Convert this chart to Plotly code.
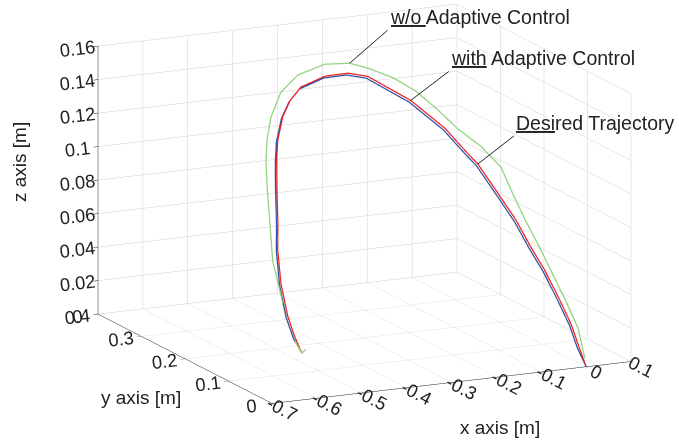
import plotly.graph_objects as go

# Desired trajectory (red)
des_x = [-0.468,-0.470,-0.470,-0.461,-0.447,-0.431,-0.411,-0.395,-0.381,-0.359,-0.337,-0.311,-0.264,-0.224,-0.193,-0.135,-0.094,-0.071,-0.060,-0.042,-0.030,-0.022,-0.012,-0.005,0.000,0.000,0.000]
des_y = [0.171,0.185,0.201,0.226,0.248,0.264,0.287,0.304,0.316,0.327,0.333,0.335,0.328,0.317,0.303,0.264,0.228,0.199,0.187,0.153,0.130,0.107,0.083,0.059,0.035,0.017,0.000]
des_z = [0.000,0.008,0.018,0.034,0.051,0.064,0.082,0.095,0.105,0.117,0.125,0.132,0.138,0.140,0.139,0.128,0.115,0.103,0.098,0.082,0.071,0.059,0.047,0.034,0.021,0.010,0.000]

# With adaptive control (blue)
ada_x = [-0.468,-0.473,-0.473,-0.464,-0.450,-0.434,-0.414,-0.398,-0.384,-0.362,-0.340,-0.314,-0.267,-0.227,-0.196,-0.138,-0.097,-0.074,-0.063,-0.045,-0.033,-0.025,-0.015,-0.008,-0.003,-0.003,0.000]
ada_y = [0.171,0.185,0.201,0.226,0.248,0.264,0.287,0.304,0.316,0.327,0.333,0.335,0.328,0.317,0.303,0.264,0.228,0.199,0.187,0.153,0.130,0.107,0.083,0.059,0.035,0.017,0.000]
ada_z = [0.000,0.007,0.017,0.033,0.050,0.063,0.081,0.094,0.104,0.116,0.124,0.131,0.137,0.139,0.138,0.127,0.114,0.102,0.097,0.081,0.070,0.058,0.046,0.033,0.020,0.009,0.000]

# Without adaptive control (green)
noa_x = [-0.459,-0.469,-0.472,-0.473,-0.466,-0.461,-0.444,-0.427,-0.413,-0.399,-0.379,-0.348,-0.309,-0.258,-0.215,-0.187,-0.152,-0.122,-0.095,-0.073,-0.045,-0.024,-0.019,-0.014,-0.007,-0.002,0.005,0.010,0.003]
noa_y = [0.171,0.170,0.183,0.202,0.227,0.245,0.269,0.293,0.310,0.322,0.334,0.343,0.344,0.335,0.322,0.308,0.288,0.267,0.243,0.220,0.196,0.171,0.149,0.125,0.102,0.079,0.054,0.029,0.006]
noa_z = [0.002,0.000,0.006,0.017,0.034,0.045,0.064,0.082,0.095,0.105,0.116,0.129,0.138,0.144,0.145,0.143,0.139,0.133,0.124,0.115,0.107,0.097,0.084,0.071,0.059,0.047,0.033,0.019,0.004]

x_ticks = [-0.7, -0.6, -0.5, -0.4, -0.3, -0.2, -0.1, 0, 0.1]
x_labels = ["-0.7", "-0.6", "-0.5", "-0.4", "-0.3", "-0.2", "-0.1", "0", "0.1"]
y_ticks = [0, 0.1, 0.2, 0.3, 0.4]
y_labels = ["0", "0.1", "0.2", "0.3", "0.4"]
z_ticks = [0, 0.02, 0.04, 0.06, 0.08, 0.1, 0.12, 0.14, 0.16]
z_labels = ["0", "0.02", "0.04", "0.06", "0.08", "0.1", "0.12", "0.14", "0.16"]

FONT = "Liberation Sans, Arial, sans-serif"
TXT = "#222222"

fig = go.Figure()
fig.add_trace(go.Scatter3d(x=noa_x, y=noa_y, z=noa_z, mode="lines",
                           line=dict(color="#90d27e", width=2.5), name="w/o Adaptive Control"))
fig.add_trace(go.Scatter3d(x=des_x, y=des_y, z=des_z, mode="lines",
                           line=dict(color="#ee2222", width=2.5), name="Desired Trajectory"))
fig.add_trace(go.Scatter3d(x=ada_x, y=ada_y, z=ada_z, mode="lines",
                           line=dict(color="#3352a6", width=2.5), name="with Adaptive Control"))

def axis(rng, tv, tt):
    return dict(title=dict(text=""),
                range=rng, tickvals=tv, ticktext=tt, autorange=False,
                tickfont=dict(family=FONT, size=14.8, color=TXT),
                showgrid=True, gridcolor="#d0d0d0", gridwidth=1,
                showbackground=False, zeroline=False, showspikes=False,
                showline=True, linecolor=TXT, linewidth=1,
                ticks="outside", ticklen=5, tickcolor=TXT)

# view direction (azimuth / elevation of the reference figure)
dirv = (-0.4174, -0.8752, 0.245)
cen = (-0.1104, 0.0321, -0.0734)
r = 2.0
eye = dict(x=cen[0] + dirv[0] * r, y=cen[1] + dirv[1] * r, z=cen[2] + dirv[2] * r)

ann_font = dict(family=FONT, size=19.5, color=TXT)
title_font = dict(family=FONT, size=19, color=TXT)

def label(text, x, y, angle=0):
    return dict(text=text, x=x, y=y, xref="paper", yref="paper", showarrow=False,
                textangle=angle, font=title_font, xanchor="center", yanchor="middle")

fig.update_layout(
    width=679, height=441,
    margin=dict(l=0, r=0, t=0, b=0),
    paper_bgcolor="white",
    showlegend=False,
    scene=dict(
        domain=dict(x=[0, 1], y=[0, 1]),
        xaxis=axis([-0.7, 0.1], x_ticks, x_labels),
        yaxis=axis([0, 0.4], y_ticks, y_labels),
        zaxis=axis([0, 0.16], z_ticks, z_labels),
        aspectmode="manual",
        aspectratio=dict(x=1.804, y=1.833, z=1.2535),
        camera=dict(eye=eye, up=dict(x=0, y=0, z=1),
                    center=dict(x=cen[0], y=cen[1], z=cen[2]),
                    projection=dict(type="orthographic")),
        annotations=[
            dict(x=noa_x[14], y=noa_y[14], z=noa_z[14], text='<span style="text-decoration:underline">w/o </span>Adaptive Control',
                 showarrow=True, arrowhead=0, arrowwidth=1, arrowcolor=TXT, ax=38, ay=-33,
                 xanchor="left", yanchor="bottom", font=ann_font),
            dict(x=des_x[15], y=des_y[15], z=des_z[15], text='<span style="text-decoration:underline">with</span> Adaptive Control',
                 showarrow=True, arrowhead=0, arrowwidth=1, arrowcolor=TXT, ax=38, ay=-29,
                 xanchor="left", yanchor="bottom", font=ann_font),
            dict(x=des_x[18], y=des_y[18], z=des_z[18], text='<span style="text-decoration:underline">Desi</span>red Trajectory',
                 showarrow=True, arrowhead=0, arrowwidth=1, arrowcolor=TXT, ax=36, ay=-28,
                 xanchor="left", yanchor="bottom", font=ann_font),
        ],
    ),
    annotations=[
        label("x axis [m]", 500 / 679, 1 - 427 / 441),
        label("y axis [m]", 141 / 679, 1 - 397 / 441),
        label("z axis [m]", 20 / 679, 1 - 162 / 441, angle=-90),
    ],
)

fig.write_html("out.html", config={"displayModeBar": False},
               post_script="document.body.style.margin='0px';")
